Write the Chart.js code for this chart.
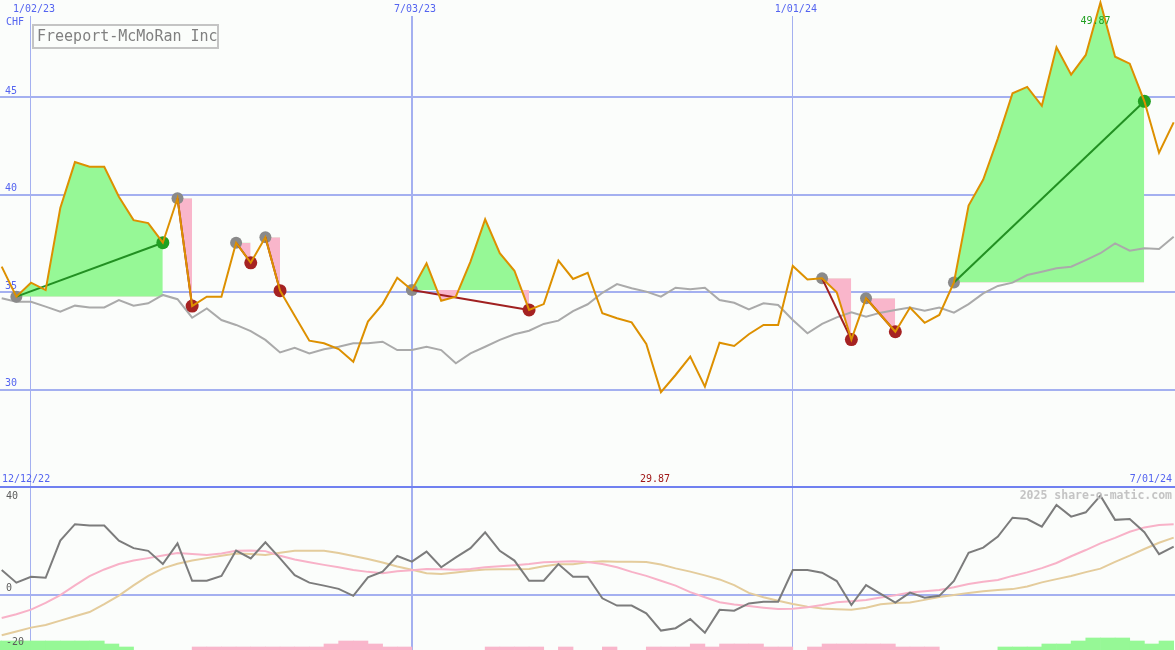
<!DOCTYPE html>
<html>
<head>
<meta charset="utf-8">
<script src="https://cdn.jsdelivr.net/npm/chart.js@4.4.1/dist/chart.umd.min.js"></script>
<style>
  body { margin: 0; background: #fbfdfb; }
  #wrap { position: relative; width: 1175px; height: 650px; }
</style>
</head>
<body>
<div id="wrap"><canvas id="chart" width="1175" height="650"></canvas></div>
<script>
var title = 'Freeport-McMoRan Inc';
var currency = 'CHF';
var dateTicks = [2, 28, 54];
var dateLabels = ['1/02/23', '7/03/23', '1/01/24'];
var firstDate = '12/12/22';
var lastDate = '7/01/24';
var priceTicks = [30, 35, 40, 45];
var momentumTicks = [-20, 0, 40];
var copyright = '2025 share-o-matic.com';

// weekly close, 81 weeks
var price = [
    36.31, 34.77, 35.49, 35.11, 39.32, 41.68, 41.44, 41.44, 39.9, 38.7,
    38.55, 37.54, 39.82, 34.29, 34.77, 34.77, 37.54, 36.51, 37.82, 35.08,
    33.79, 32.51, 32.38, 32.08, 31.43, 33.49, 34.39, 35.74, 35.11, 36.48,
    34.56, 34.77, 36.57, 38.74, 37.0, 36.1, 34.09, 34.39, 36.62, 35.68,
    36.0, 33.92, 33.66, 33.45, 32.34, 29.87, 30.75, 31.69, 30.15, 32.41,
    32.24, 32.84, 33.32, 33.32, 36.35, 35.65, 35.71, 35.0, 32.57, 34.69,
    33.83, 32.97, 34.21, 33.43, 33.83, 35.5, 39.45, 40.78, 42.9, 45.21,
    45.54, 44.57, 47.57, 46.17, 47.18, 49.87, 47.09, 46.73, 44.8, 42.16,
    43.72
];
// grey comparison line
var benchmark = [
    34.69, 34.51, 34.51, 34.26, 34.0, 34.31, 34.22, 34.22, 34.6, 34.31,
    34.43, 34.86, 34.64, 33.69, 34.17, 33.57, 33.32, 33.0, 32.55, 31.91,
    32.15, 31.86, 32.07, 32.2, 32.38, 32.38, 32.46, 32.03, 32.03, 32.2,
    32.03, 31.35, 31.86, 32.2, 32.55, 32.84, 33.02, 33.37, 33.54, 34.03,
    34.38, 34.97, 35.42, 35.2, 35.03, 34.77, 35.23, 35.15, 35.23, 34.6,
    34.46, 34.12, 34.43, 34.34, 33.57, 32.89, 33.37, 33.71, 33.97, 33.74,
    33.95, 34.09, 34.21, 34.05, 34.21, 33.95, 34.39, 34.94, 35.32, 35.49,
    35.88, 36.05, 36.23, 36.31, 36.65, 37.0, 37.51, 37.13, 37.25, 37.22,
    37.85
];
var momentum = [
    9.2, 4.5, 6.7, 6.3, 20.1, 26.2, 25.7, 25.7, 20.1, 17.3,
    16.3, 11.4, 19.1, 5.2, 5.2, 7.0, 16.4, 13.5, 19.5, 13.5,
    7.3, 4.5, 3.4, 2.2, -0.4, 6.5, 8.6, 14.4, 12.3, 16.0,
    10.2, 13.9, 17.3, 23.2, 16.3, 12.7, 5.2, 5.2, 11.4, 6.7,
    6.7, -1.3, -4.0, -4.0, -6.9, -13.3, -12.4, -9.0, -14.1, -5.6,
    -5.9, -3.2, -2.6, -2.6, 9.2, 9.2, 8.2, 5.1, -3.8, 3.6,
    0.3, -2.9, 0.8, -1.1, -0.4, 5.1, 15.6, 17.5, 21.6, 28.6,
    28.1, 25.3, 33.3, 29.0, 30.6, 36.8, 27.8, 28.1, 23.2, 15.1,
    17.9
];
var maFast = [
    -8.6, -7.2, -5.5, -3.0, -0.1, 3.5, 6.9, 9.4, 11.4, 12.7,
    13.6, 14.6, 15.5, 15.1, 14.8, 15.3, 16.3, 16.4, 16.2, 14.5,
    13.1, 12.1, 11.1, 10.2, 9.2, 8.5, 8.0, 8.7, 9.1, 9.6,
    9.5, 9.3, 9.6, 10.2, 10.6, 11.0, 11.4, 12.1, 12.3, 12.4,
    12.2, 11.4, 10.2, 8.5, 7.0, 5.2, 3.4, 1.0, -0.9, -2.8,
    -3.6, -4.2, -4.8, -5.3, -5.2, -4.6, -3.8, -2.8, -2.4, -1.9,
    -1.0, -0.2, 0.8, 1.3, 1.8, 2.8, 4.0, 4.8, 5.5, 7.0,
    8.3, 9.9, 11.8, 14.3, 16.6, 19.1, 21.1, 23.4, 25.0, 25.9,
    26.2
];
var maSlow = [
    -15.0, -13.6, -12.2, -11.2, -9.6, -8.0, -6.4, -3.5, -0.3, 3.5,
    7.0, 9.8, 11.5, 12.7, 13.6, 14.5, 15.3, 15.1, 14.8, 15.6,
    16.3, 16.3, 16.3, 15.5, 14.4, 13.3, 12.0, 10.5, 9.3, 8.0,
    7.7, 8.3, 8.9, 9.4, 9.5, 9.5, 9.6, 10.6, 11.3, 11.3,
    12.1, 12.4, 12.3, 12.3, 12.2, 11.2, 9.8, 8.6, 7.2, 5.7,
    3.6, 0.7, -0.9, -2.2, -3.4, -4.4, -5.1, -5.4, -5.6, -4.8,
    -3.5, -3.1, -2.9, -1.9, -0.8, -0.1, 0.7, 1.3, 1.8, 2.1,
    3.1, 4.6, 5.8, 7.0, 8.4, 9.7, 12.2, 14.5, 17.0, 19.3,
    21.2
];
// weekly strength blocks (bar k spans week k-1 to k)
var greenBars = [
    3, 3, 3, 3, 3, 3, 3, 3, 2, 1,
    0, 0, 0, 0, 0, 0, 0, 0, 0, 0,
    0, 0, 0, 0, 0, 0, 0, 0, 0, 0,
    0, 0, 0, 0, 0, 0, 0, 0, 0, 0,
    0, 0, 0, 0, 0, 0, 0, 0, 0, 0,
    0, 0, 0, 0, 0, 0, 0, 0, 0, 0,
    0, 0, 0, 0, 0, 0, 0, 0, 0, 1,
    1, 1, 2, 2, 3, 4, 4, 4, 3, 2,
    3
];
var pinkBars = [
    0, 0, 0, 0, 0, 0, 0, 0, 0, 0,
    0, 0, 0, 0, 1, 1, 1, 1, 1, 1,
    1, 1, 1, 2, 3, 3, 2, 1, 1, 0,
    0, 0, 0, 0, 1, 1, 1, 1, 0, 1,
    0, 0, 1, 0, 0, 1, 1, 1, 2, 1,
    2, 2, 2, 1, 1, 0, 1, 2, 2, 2,
    2, 2, 1, 1, 1, 0, 0, 0, 0, 0,
    0, 0, 0, 0, 0, 0, 0, 0, 0, 0,
    0
];
var signalStart = [1, 12, 16, 18, 28, 56, 59, 65];
var signalEnd = [11, 13, 17, 19, 36, 58, 61, 78];

var bg = '#fbfdfb';
var green = '#96f896';
var pink = '#f9b6cb';

function pts(arr, from, to) {
    var out = [];
    for (var i = from; i <= to; i++) out.push({x: i, y: arr[i]});
    return out;
}

var datasets = [];
datasets.push({data: pts(price, 0, price.length - 1), borderColor: '#dd9000', borderWidth: 2, pointRadius: 0, order: 0, yAxisID: 'y'});
datasets.push({
    data: signalEnd.map(function (e) { return {x: e, y: price[e]}; }),
    showLine: false, pointRadius: 6.5, pointBorderWidth: 0,
    pointBackgroundColor: signalEnd.map(function (e, n) { return price[e] > price[signalStart[n]] ? '#22a022' : '#a52222'; }),
    order: 1, yAxisID: 'y'
});
signalStart.forEach(function (s, n) {
    var e = signalEnd[n];
    var up = price[e] > price[s];
    datasets.push({data: [{x: s, y: price[s]}, {x: e, y: price[e]}], borderColor: up ? '#229022' : '#a02020',
        borderWidth: 2, pointRadius: 0, order: 2, yAxisID: 'y'});
    datasets.push({data: pts(price, s, e), borderWidth: 0, borderColor: 'rgba(0,0,0,0)', pointRadius: 0,
        fill: {target: {value: price[s]}, above: green, below: pink}, order: 5, yAxisID: 'y'});
});
datasets.push({data: signalStart.map(function (s) { return {x: s, y: price[s]}; }), showLine: false,
    pointRadius: 6, pointBorderWidth: 0, pointBackgroundColor: '#8a8a8a', order: 3, yAxisID: 'y'});
datasets.push({data: pts(benchmark, 0, benchmark.length - 1), borderColor: '#aaaaaa', borderWidth: 2, pointRadius: 0, order: 4, yAxisID: 'y'});

datasets.push({data: pts(momentum, 0, momentum.length - 1), borderColor: '#7c7c7c', borderWidth: 2, pointRadius: 0, order: 0, yAxisID: 'y2'});
datasets.push({data: pts(maFast, 0, maFast.length - 1), borderColor: '#f8b2c8', borderWidth: 2, pointRadius: 0, order: 1, yAxisID: 'y2'});
datasets.push({data: pts(maSlow, 0, maSlow.length - 1), borderColor: '#e4cc9c', borderWidth: 2, pointRadius: 0, order: 1, yAxisID: 'y2'});

var barData = [], barColors = [];
greenBars.forEach(function (g, k) {
    var lvl = g || pinkBars[k];
    if (!lvl) return;
    barData.push({x: k - 0.5, y: lvl});
    barColors.push(g ? green : pink);
});
datasets.push({type: 'bar', data: barData, backgroundColor: barColors, borderWidth: 0,
    barPercentage: 1, categoryPercentage: 1, order: 6, yAxisID: 'yBar'});

var mono = '"DejaVu Sans Mono", monospace';

var textPlugin = {
    id: 'texts',
    beforeDraw: function (chart) {
        var ctx = chart.ctx;
        ctx.save();
        ctx.fillStyle = bg;
        ctx.fillRect(0, 0, chart.width, chart.height);
        ctx.restore();
    },
    beforeDatasetsDraw: function (chart) {
        var ctx = chart.ctx;
        ctx.save();
        ctx.fillStyle = bg;
        ctx.fillRect(0, 0, chart.width, 16);
        ctx.restore();
    },
    afterDraw: function (chart) {
        var ctx = chart.ctx, xs = chart.scales.x, y2 = chart.scales.y2;
        ctx.save();
        ctx.textBaseline = 'middle';
        ctx.font = '10px ' + mono;
        ctx.fillStyle = '#5464f0';
        ctx.textAlign = 'left';
        dateTicks.forEach(function (v, n) {
            ctx.fillText(dateLabels[n], xs.getPixelForValue(v) - 18, 9);
        });
        ctx.fillText(currency, 6, 22);
        ctx.fillText(firstDate, 2, 479);
        ctx.textAlign = 'right';
        ctx.fillText(lastDate, 1172, 479);

        var lo = 0, hi = 0;
        price.forEach(function (v, i) { if (v < price[lo]) lo = i; if (v > price[hi]) hi = i; });
        ctx.textAlign = 'center';
        ctx.fillStyle = '#a01818';
        ctx.fillText(price[lo].toFixed(2), xs.getPixelForValue(lo) - 6, 479);
        ctx.fillStyle = '#22a022';
        ctx.fillText(price[hi].toFixed(2), xs.getPixelForValue(hi) - 5, 21);

        ctx.textAlign = 'left';
        ctx.fillStyle = '#5c5c5c';
        momentumTicks.forEach(function (v) {
            var py = y2.getPixelForValue(v) + (v === 40 ? 9 : -6);
            ctx.fillText(String(v), 6, py);
        });

        ctx.font = 'bold 11.5px ' + mono;
        ctx.fillStyle = '#c4c4c4';
        ctx.textAlign = 'right';
        ctx.fillText(copyright, 1172, 496);

        ctx.fillStyle = bg;
        ctx.fillRect(33, 25, 185, 23);
        ctx.strokeStyle = '#c4c4c4';
        ctx.lineWidth = 2;
        ctx.strokeRect(33, 25, 185, 23);
        ctx.font = '15px ' + mono;
        ctx.fillStyle = '#808080';
        ctx.textAlign = 'left';
        ctx.fillText(title, 37, 37);
        ctx.restore();
    }
};

function flat(s) {
    s.width = 0;
    s.paddingTop = 0;
    s.paddingBottom = 0;
}

new Chart(document.getElementById('chart').getContext('2d'), {
    type: 'line',
    data: {datasets: datasets},
    plugins: [textPlugin],
    options: {
        responsive: false,
        animation: false,
        events: [],
        layout: {padding: 0, autoPadding: false},
        elements: {line: {tension: 0}},
        plugins: {legend: {display: false}, tooltip: {enabled: false}},
        scales: {
            x: {
                type: 'linear', min: -0.116, max: 80.09, offset: false,
                border: {display: false},
                ticks: {display: false},
                grid: {offset: false, drawTicks: false, color: '#a4b0f0',
                    lineWidth: function (c) { return c.tick && c.tick.value === 28 ? 2 : 1; }},
                afterBuildTicks: function (s) { s.ticks = dateTicks.map(function (v) { return {value: v}; }); },
                afterFit: function (s) { s.height = 0; s.paddingLeft = 0; s.paddingRight = 0; }
            },
            y2: {
                position: 'left', stack: 'panels', stackWeight: 163, min: -20.5, max: 40,
                border: {display: false},
                grid: {drawTicks: false, lineWidth: 2,
                    color: function (c) {
                        if (!c.tick) return 'rgba(0,0,0,0)';
                        if (c.tick.value === 40) return '#7080f0';
                        if (c.tick.value === 0) return '#a4b0f0';
                        return 'rgba(0,0,0,0)';
                    }},
                ticks: {display: false},
                afterBuildTicks: function (s) { s.ticks = momentumTicks.map(function (v) { return {value: v}; }); },
                afterFit: flat
            },
            y: {
                position: 'left', stack: 'panels', stackWeight: 487, min: 25, max: 50,
                border: {display: false},
                grid: {drawTicks: false, color: '#a4b0f0', lineWidth: 2},
                ticks: {mirror: true, padding: 5, labelOffset: -6, color: '#5464f0', font: {family: mono, size: 10}},
                afterBuildTicks: function (s) { s.ticks = priceTicks.map(function (v) { return {value: v}; }); },
                afterFit: flat
            },
            yBar: {display: false, min: 0, max: 650 / 3, afterFit: flat}
        }
    }
});
</script>
</body>
</html>
